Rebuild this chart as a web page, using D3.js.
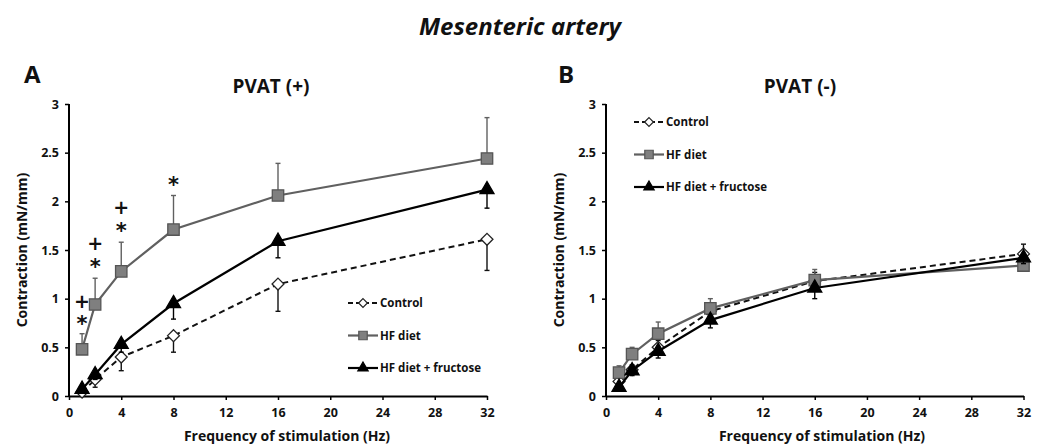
<!DOCTYPE html>
<html><head><meta charset="utf-8">
<script src="https://cdn.jsdelivr.net/npm/d3@7/dist/d3.min.js"></script>
<style>body{margin:0;background:#fff}svg{display:block}text{font-family:"Open Sans",Lato,sans-serif;font-weight:bold;fill:#111}</style>
</head><body><svg id="c" width="1044" height="445"></svg>
<script>
const freqs = [1, 2, 4, 8, 16, 32];
const xTicks = [0, 4, 8, 12, 16, 20, 24, 28, 32];
const yTicks = [0, 0.5, 1, 1.5, 2, 2.5, 3];
const seriesNames = ["Control", "HF diet", "HF diet + fructose"];
// Panel A: PVAT (+)
const aControl = [0.04, 0.17, 0.40, 0.62, 1.15, 1.61];
const aControlErr = [-0.03, -0.08, -0.14, -0.17, -0.28, -0.32];
const aHF = [0.48, 0.94, 1.28, 1.71, 2.06, 2.44];
const aHFErr = [0.16, 0.27, 0.30, 0.35, 0.33, 0.42];
const aFruc = [0.07, 0.22, 0.53, 0.95, 1.59, 2.12];
const aFrucErr = [-0.03, -0.05, -0.08, -0.16, -0.17, -0.19];
const aMarks = [{f: 1, sym: "+", y: 0.98}, {f: 1, sym: "*", y: 0.77}, {f: 2, sym: "+", y: 1.57}, {f: 2, sym: "*", y: 1.36},
                {f: 4, sym: "+", y: 1.94}, {f: 4, sym: "*", y: 1.73}, {f: 8, sym: "*", y: 2.2}];
// Panel B: PVAT (-)
const bControl = [0.15, 0.27, 0.50, 0.87, 1.18, 1.46];
const bControlErr = [0.05, 0.05, 0.07, 0.08, 0.09, 0.10];
const bHF = [0.24, 0.43, 0.64, 0.90, 1.19, 1.34];
const bHFErr = [0.07, 0.07, 0.12, 0.10, 0.11, 0.05];
const bFruc = [0.09, 0.26, 0.46, 0.78, 1.11, 1.42];
const bFrucErr = [-0.04, -0.05, -0.07, -0.08, -0.11, -0.06];

const svg = d3.select("#c");
svg.append("text").attr("x", 520).attr("y", 35).attr("text-anchor", "middle")
  .style("font-size", "24px").style("font-style", "italic").text("Mesenteric artery");

const styles = [
  {stroke: "#111", dash: "6,4", fill: "#fff", mstroke: "#222", shape: d3.symbolDiamond2, size: 90, width: 2},
  {stroke: "#606060", dash: null, fill: "#7f7f7f", mstroke: "#555", shape: d3.symbolSquare, size: 130, width: 2.2},
  {stroke: "#000", dash: null, fill: "#000", mstroke: "#000", shape: d3.symbolTriangle, size: 85, width: 2.2}
];

function panel(o) {
  const x = d3.scaleLinear().domain([0, 32]).range([o.x0, o.x1]);
  const y = d3.scaleLinear().domain([0, 3]).range([396, 104]);
  const g = svg.append("g");
  g.append("text").attr("x", o.lx).attr("y", 83).style("font-size", "24px").text(o.letter);
  g.append("text").attr("x", o.tx).attr("y", 93).attr("text-anchor", "middle").style("font-size", "19px").text(o.title);
  const ya = g.append("g").attr("transform", `translate(${o.x0},0)`)
    .call(d3.axisLeft(y).tickValues(yTicks).tickSize(4).tickPadding(6).tickFormat(d3.format("")));
  const xa = g.append("g").attr("transform", "translate(0,396)")
    .call(d3.axisBottom(x).tickValues(xTicks).tickSize(4).tickPadding(8).tickSizeOuter(0));
  [ya, xa].forEach(a => {
    a.select(".domain").attr("stroke", "#000").attr("stroke-width", 2);
    a.selectAll(".tick line").attr("stroke", "#000").attr("stroke-width", 1.5);
    a.selectAll("text").style("font-size", "12.5px").attr("fill", "#111");
  });
  ya.select(".domain").attr("d", `M0,${y(3)}V${y(0)}`);
  g.append("text").attr("transform", `translate(${o.ylx},${(104 + 396) / 2}) rotate(-90)`)
    .attr("text-anchor", "middle").style("font-size", "14px").text("Contraction (mN/mm)");
  g.append("text").attr("x", o.xlx).attr("y", 441).attr("text-anchor", "middle")
    .style("font-size", "14px").text("Frequency of stimulation (Hz)");

  const line = d3.line().x(d => x(d[0])).y(d => y(d[1]));
  o.series.forEach((s, i) => {
    const st = styles[i];
    const pts = freqs.map((f, k) => [f, s.v[k], s.e[k]]);
    const eg = g.append("g");
    pts.forEach(p => {
      const y1 = y(p[1]), y2 = y(p[1] + p[2]);
      eg.append("line").attr("x1", x(p[0])).attr("x2", x(p[0])).attr("y1", y1).attr("y2", y2)
        .attr("stroke", st.stroke).attr("stroke-width", 1.4);
      eg.append("line").attr("x1", x(p[0]) - 2.5).attr("x2", x(p[0]) + 2.5).attr("y1", y2).attr("y2", y2)
        .attr("stroke", st.stroke).attr("stroke-width", 1.4);
    });
    g.append("path").attr("d", line(pts)).attr("fill", "none").attr("stroke", st.stroke)
      .attr("stroke-width", st.width).attr("stroke-dasharray", st.dash);
    g.selectAll(null).data(pts).enter().append("path")
      .attr("transform", d => `translate(${x(d[0])},${y(d[1])})`)
      .attr("d", d3.symbol().type(st.shape).size(st.size))
      .attr("fill", st.fill).attr("stroke", st.mstroke).attr("stroke-width", 1.3);
  });
  (o.marks || []).forEach(m => {
    g.append("text").attr("x", x(m.f)).attr("y", y(m.y) + (m.sym === "*" ? 10 : 7)).attr("text-anchor", "middle")
      .style("font-family", "'DejaVu Sans', sans-serif")
      .style("font-size", m.sym === "*" ? "21px" : "19px").style("font-weight", "bold").attr("fill", "#111").text(m.sym);
  });
  seriesNames.forEach((n, i) => {
    const st = styles[i];
    const ly = o.legY + i * 32.5;
    g.append("line").attr("x1", o.legX).attr("x2", o.legX + 30).attr("y1", ly).attr("y2", ly)
      .attr("stroke", st.stroke).attr("stroke-width", st.width).attr("stroke-dasharray", i === 0 ? "5,3" : null);
    g.append("path").attr("transform", `translate(${o.legX + 15},${ly})`)
      .attr("d", d3.symbol().type(st.shape).size(st.size * 0.55))
      .attr("fill", st.fill).attr("stroke", st.mstroke).attr("stroke-width", 1.2);
    g.append("text").attr("x", o.legX + 32).attr("y", ly + 4).style("font-size", "11.5px").text(n);
  });
}

panel({x0: 69, x1: 487, letter: "A", lx: 24, title: "PVAT (+)", tx: 271, ylx: 27, xlx: 287,
  legX: 348, legY: 303,
  series: [{v: aControl, e: aControlErr}, {v: aHF, e: aHFErr}, {v: aFruc, e: aFrucErr}], marks: aMarks});
panel({x0: 606, x1: 1023.5, letter: "B", lx: 558, title: "PVAT (-)", tx: 800, ylx: 564, xlx: 822,
  legX: 634, legY: 122,
  series: [{v: bControl, e: bControlErr}, {v: bHF, e: bHFErr}, {v: bFruc, e: bFrucErr}]});
</script></body></html>
